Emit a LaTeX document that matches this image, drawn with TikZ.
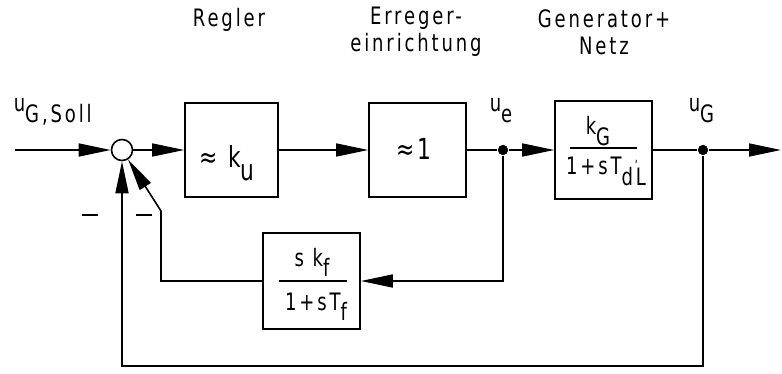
\documentclass[tikz,border=0pt]{standalone}
\usepackage{fontspec}
\setmainfont{DejaVu Sans}[FakeStretch=0.75,LetterSpace=12]
\usetikzlibrary{arrows.meta}
\newcommand\lowsub[1]{\raisebox{-0.8ex}{#1}}
\begin{document}
\begin{tikzpicture}[x=1pt,y=-1pt,line width=1.6pt,
  blk/.style={draw,inner sep=0pt},
  txt/.style={inner sep=0pt,font=\fontsize{24}{27}\selectfont,align=center},
  bigtxt/.style={inner sep=0pt,font=\fontsize{29}{30}\selectfont},
  fractxt/.style={inner sep=0pt,font=\fontsize{24}{24}\selectfont},
  arr/.style={-{Triangle[length=32pt,width=13pt]}},
  dotnode/.style={circle,fill,inner sep=0pt,minimum size=10pt},
  sumnode/.style={circle,draw,inner sep=0pt,minimum size=21pt,fill=white}]
\useasboundingbox (0,0) rectangle (782,374);
% blocks
\node[blk,minimum width=93pt,minimum height=94pt] (regler) at (231.5,150) {};
\node[blk,minimum width=97pt,minimum height=94pt] (erreger) at (417.5,150) {};
\node[blk,minimum width=97pt,minimum height=98pt] (gen) at (603.5,150) {};
\node[blk,minimum width=97pt,minimum height=96pt] (fb) at (311.5,281) {};
\node[sumnode] (sum) at (122,150) {};
\node[dotnode] (ue) at (503,150) {};
\node[dotnode] (uG) at (703,150) {};
\coordinate (in) at (15,150);
\coordinate (out) at (781,150);
\coordinate (c1) at (161,211);
\coordinate (b) at (703,366);
% block texts
\node[bigtxt,anchor=base] (tr) at (227,168) {≈ k\lowsub{u}};
\node[bigtxt,anchor=base] (te) at (414,160) {≈1};
\node[fractxt,anchor=base] (gnum) at (598,135) {k\lowsub{G}};
\node[fractxt,anchor=base] (gden) at (606,175) {1+sT\lowsub{\rlap{\hspace{0.55em}\raisebox{0.6em}{\fontsize{14}{14}\selectfont ʹ}}dL}};
\draw (570,148) -- (637,148);
\node[fractxt,anchor=base] (fnum) at (312,266) {s k\lowsub{f}};
\node[fractxt,anchor=base] (fden) at (316,310) {1+sT\lowsub{f}};
\draw (279,281) -- (347,281);
% labels
\node[txt] (l1) at (229,20) {Regler};
\node[txt] (l2) at (416,32) {Erreger-\\einrichtung};
\node[txt] (l3) at (604,32) {Generator+\\Netz};
\node[txt,anchor=base west] (l4) at (13,112) {u\lowsub{G,Soll}};
\node[txt,anchor=base west] (l5) at (489,112) {u\lowsub{e}};
\node[txt,anchor=base west] (l6) at (688,112) {u\lowsub{G}};
\node[inner sep=0pt] (m1) at (89.5,215) {\rule{16pt}{1.6pt}};
\node[inner sep=0pt] (m2) at (143.5,215) {\rule{16pt}{1.6pt}};
% connectors
\draw[arr] (in) -- (sum);
\draw[arr] (sum) -- (regler);
\draw[arr] (regler) -- (erreger);
\draw (erreger) -- (ue);
\draw[arr] (ue) -- (gen);
\draw (gen) -- (uG);
\draw[arr] (uG) -- (out);
\draw[arr] (ue) |- (fb);
\draw[arr] (fb.west) -| (c1) -- (sum);
\draw[arr] (uG) -- (b) -| (sum);
\node[dotnode] at (ue) {};
\node[dotnode] at (uG) {};
\end{tikzpicture}
\end{document}
